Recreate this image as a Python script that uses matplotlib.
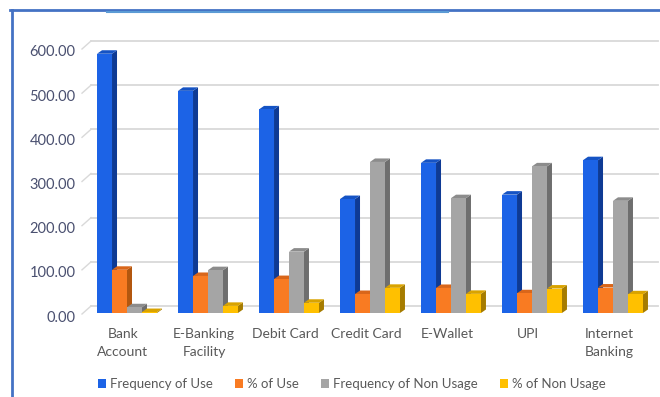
import numpy as np
import matplotlib
matplotlib.use('Agg')
import matplotlib.pyplot as plt
import matplotlib.transforms as mtrans
from matplotlib.patches import Polygon
from matplotlib.lines import Line2D

# data (600 respondents in total)
categories = ['Bank\nAccount', 'E-Banking\nFacility', 'Debit Card', 'Credit Card',
              'E-Wallet', 'UPI', 'Internet\nBanking']
freq_use = [587, 503, 461, 258, 340, 268, 346]
pct_use = [97.83, 83.83, 76.83, 43.00, 56.67, 44.67, 57.67]
freq_non = [13, 97, 139, 342, 260, 332, 254]
pct_non = [2.17, 16.17, 23.17, 57.00, 43.33, 55.33, 42.33]
series_names = ['Frequency of Use', '% of Use', 'Frequency of Non Usage', '% of Non Usage']
yticks = [0, 100, 200, 300, 400, 500, 600]

series = [freq_use, pct_use, freq_non, pct_non]
front = ['#1C63E6', '#F97B22', '#A5A5A5', '#FFC000']
side = ['#0E3A94', '#B3570F', '#6E6E6E', '#A67C00']
top = ['#1553C4', '#D9661A', '#8C8C8C', '#D9A300']

plt.rcParams['font.family'] = ['Lato', 'DejaVu Sans']
txt = '#595959'

W, H = 660, 397
fig = plt.figure(figsize=(W / 100, H / 100), dpi=100)
ax = fig.add_axes([86.5 / W, 84 / H, 567 / W, 265 / H])
ax.patch.set_visible(False)
ax.set_xlim(-0.5, len(categories) - 0.5)
ax.set_ylim(0, 600)
for s in ax.spines.values():
    s.set_visible(False)

bw = 0.185
ddx = 5 / 81            # depth of the fake 3D, in category units
ddy = 3.5 * 600 / 265   # and in value units
x = np.arange(len(categories))
for j, vals in enumerate(series):
    lefts = x - 2 * bw + j * bw
    z = 3 + j
    ax.bar(lefts, vals, width=bw, align='edge', color=front[j], zorder=z + 0.5,
           label=series_names[j])
    for l, h in zip(lefts, vals):
        r = l + bw
        ax.add_patch(Polygon([(r, 0), (r + ddx, ddy), (r + ddx, h + ddy), (r, h)],
                             closed=True, facecolor=side[j], edgecolor='none', zorder=z))
        ax.add_patch(Polygon([(l, h), (r, h), (r + ddx, h + ddy), (l + ddx, h + ddy)],
                             closed=True, facecolor=top[j], edgecolor='none', zorder=z))

# y ticks, shifted a bit down like the front edge of the 3D floor
ax.set_yticks(yticks)
ax.set_yticklabels(['%.2f' % v for v in yticks])
ax.tick_params(axis='y', length=0, pad=8, labelsize=10.5, labelcolor='#4A5070')
for lab in ax.get_yticklabels():
    lab.set_transform(lab.get_transform() + mtrans.ScaledTranslation(0, -3 / 100, fig.dpi_scale_trans))

ax.set_xticks(x)
ax.set_xticklabels(categories)
ax.tick_params(axis='x', length=0, pad=11, labelsize=10, labelcolor=txt)
for lab in ax.get_xticklabels():
    lab.set_linespacing(1.6)
    lab.set_transform(lab.get_transform() + mtrans.ScaledTranslation(-4 / 100, 0, fig.dpi_scale_trans))

# back wall gridlines + diagonal floor edges
for v in yticks:
    yp = ax.transData.transform((0, v))[1]
    fig.add_artist(Line2D([91 / W, 658 / W], [(yp + 7) / H, (yp + 7) / H],
                          color='#D9D9D9', lw=1.3, zorder=0))
    fig.add_artist(Line2D([82 / W, 91 / W], [(yp - 1) / H, (yp + 7) / H],
                          color='#D9D9D9', lw=1.0, zorder=0))

fig.legend(loc='center', bbox_to_anchor=(352 / W, 1 - 384 / H), ncol=4, frameon=False,
           fontsize=9.5, handlelength=0.6, handleheight=0.6, handletextpad=0.3,
           columnspacing=1.7, labelcolor=txt)

# frame of the screenshot
fig.add_artist(Line2D([11.5 / W, 11.5 / W], [0, 1 - 10 / H], color='#4472C4', lw=2))
fig.add_artist(Line2D([10 / W, 1], [1 - 10 / H, 1 - 10 / H], color='#4472C4', lw=2))
fig.add_artist(Line2D([107 / W, 448 / W], [1 - 11.5 / H, 1 - 11.5 / H], color='#5B9BD5', lw=1.5))

fig.savefig('out.png', dpi=100)
